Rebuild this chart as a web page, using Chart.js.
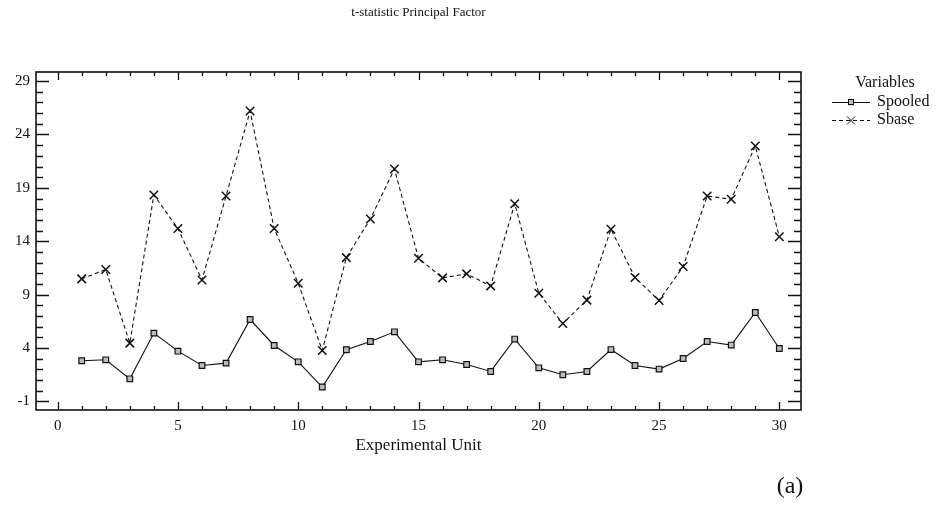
<!DOCTYPE html>
<html>
<head>
<meta charset="utf-8">
<title>t-statistic Principal Factor</title>
<script src="https://cdn.jsdelivr.net/npm/chart.js@4.4.1/dist/chart.umd.min.js"></script>
<style>
  html, body { margin: 0; padding: 0; background: #fff; }
  #wrap { width: 951px; height: 506px; }
</style>
</head>
<body>
<div id="wrap"><canvas id="tChart" width="951" height="506"></canvas></div>
<script>
// values
const units = [1, 2, 3, 4, 5, 6, 7, 8, 9, 10, 11, 12, 13, 14, 15,
               16, 17, 18, 19, 20, 21, 22, 23, 24, 25, 26, 27, 28, 29, 30];
const spooled = [2.81, 2.9, 1.12, 5.4, 3.71, 2.37, 2.59, 6.67, 4.24, 2.71,
                 0.35, 3.84, 4.61, 5.52, 2.71, 2.9, 2.46, 1.81, 4.84, 2.15,
                 1.5, 1.81, 3.86, 2.37, 2.03, 3.02, 4.61, 4.28, 7.33, 3.96];
const sbase = [10.48, 11.35, 4.46, 18.34, 15.19, 10.38, 18.24, 26.19, 15.19, 10.07,
               3.77, 12.47, 16.09, 20.77, 12.41, 10.57, 10.95, 9.82, 17.52, 9.14,
               6.3, 8.49, 15.13, 10.6, 8.45, 11.63, 18.24, 17.93, 22.92, 14.43];
const xTickLabels = [0, 5, 10, 15, 20, 25, 30];
const yTickLabels = [-1, 4, 9, 14, 19, 24, 29];

const serif = '"Liberation Serif", "Times New Roman", serif';
const ink = '#111';

// title, frame + inward ticks on all four sides, legend and panel tag
const decorations = {
    id: 'decorations',
    afterDraw(chart) {
        const ctx = chart.ctx;
        const area = chart.chartArea;
        const xs = chart.scales.x;
        const ys = chart.scales.y;
        ctx.save();

        ctx.fillStyle = ink;
        ctx.font = '13px ' + serif;
        ctx.textAlign = 'center';
        ctx.textBaseline = 'middle';
        ctx.fillText('t-statistic Principal Factor', (area.left + area.right) / 2, 13);

        ctx.strokeStyle = ink;
        ctx.lineWidth = 1.6;
        ctx.strokeRect(area.left, area.top, area.right - area.left, area.bottom - area.top);

        ctx.lineWidth = 1.3;
        ctx.beginPath();
        for (let v = Math.ceil(xs.min); v <= Math.floor(xs.max); v++) {
            const px = Math.round(xs.getPixelForValue(v)) + 0.5;
            const len = v % 5 === 0 ? 8 : 4;
            ctx.moveTo(px, area.bottom);
            ctx.lineTo(px, area.bottom - len);
            ctx.moveTo(px, area.top);
            ctx.lineTo(px, area.top + len);
        }
        for (let v = Math.ceil(ys.min); v <= Math.floor(ys.max); v++) {
            const py = Math.round(ys.getPixelForValue(v)) + 0.5;
            const len = (v + 1) % 5 === 0 ? 13 : 7;
            ctx.moveTo(area.left, py);
            ctx.lineTo(area.left + len, py);
            ctx.moveTo(area.right, py);
            ctx.lineTo(area.right - len, py);
        }
        ctx.stroke();

        // legend
        ctx.font = '16px ' + serif;
        ctx.textAlign = 'center';
        ctx.fillText('Variables', 885, 83);
        ctx.textAlign = 'left';
        ctx.fillText('Spooled', 877, 102);
        ctx.fillText('Sbase', 877, 120);

        ctx.lineWidth = 1;
        ctx.beginPath();
        ctx.moveTo(832, 102.5);
        ctx.lineTo(870, 102.5);
        ctx.stroke();
        ctx.fillStyle = '#bbb';
        ctx.fillRect(848, 99.5, 6, 6);
        ctx.strokeRect(848.5, 99.5, 5, 5);

        ctx.setLineDash([4, 3]);
        ctx.beginPath();
        ctx.moveTo(832, 120.5);
        ctx.lineTo(870, 120.5);
        ctx.stroke();
        ctx.setLineDash([]);
        ctx.beginPath();
        ctx.moveTo(847, 116.5); ctx.lineTo(855, 124.5);
        ctx.moveTo(855, 116.5); ctx.lineTo(847, 124.5);
        ctx.stroke();

        ctx.fillStyle = ink;
        ctx.font = '24px ' + serif;
        ctx.textAlign = 'center';
        ctx.fillText('(a)', 790, 487);
        ctx.restore();
    }
};

const ctx = document.getElementById('tChart').getContext('2d');
new Chart(ctx, {
    type: 'line',
    data: {
        labels: units,
        datasets: [
            {
                label: 'Spooled',
                data: units.map((u, i) => ({ x: u, y: spooled[i] })),
                borderColor: ink,
                borderWidth: 1.1,
                pointStyle: 'rect',
                pointRadius: 4,
                pointBorderWidth: 1.2,
                pointBorderColor: ink,
                pointBackgroundColor: '#bbb',
                tension: 0
            },
            {
                label: 'Sbase',
                data: units.map((u, i) => ({ x: u, y: sbase[i] })),
                borderColor: ink,
                borderWidth: 1.1,
                borderDash: [4, 3],
                pointStyle: 'crossRot',
                pointRadius: 6,
                pointBorderWidth: 1.5,
                pointBorderColor: ink,
                tension: 0
            }
        ]
    },
    options: {
        responsive: false,
        animation: false,
        layout: { padding: { top: 72, left: 0, right: 150, bottom: 50 } },
        plugins: {
            legend: { display: false },
            tooltip: { enabled: false },
            title: { display: false }
        },
        scales: {
            x: {
                type: 'linear',
                min: -0.9,
                max: 30.9,
                grid: { display: false, drawTicks: false },
                border: { display: false },
                afterBuildTicks: scale => {
                    scale.ticks = xTickLabels.map(v => ({ value: v }));
                },
                afterFit: scale => { scale.height = 46; },
                ticks: {
                    color: ink,
                    padding: 7,
                    maxRotation: 0,
                    font: { family: serif, size: 15 }
                },
                title: {
                    display: true,
                    text: 'Experimental Unit',
                    color: ink,
                    padding: 0,
                    font: { family: serif, size: 17 }
                }
            },
            y: {
                min: -1.8,
                max: 29.85,
                grid: { display: false, drawTicks: false },
                border: { display: false },
                afterBuildTicks: scale => {
                    scale.ticks = yTickLabels.map(v => ({ value: v }));
                },
                afterFit: scale => { scale.width = 36; },
                ticks: {
                    color: ink,
                    padding: 6,
                    font: { family: serif, size: 15 }
                }
            }
        }
    },
    plugins: [decorations]
});
</script>
</body>
</html>
